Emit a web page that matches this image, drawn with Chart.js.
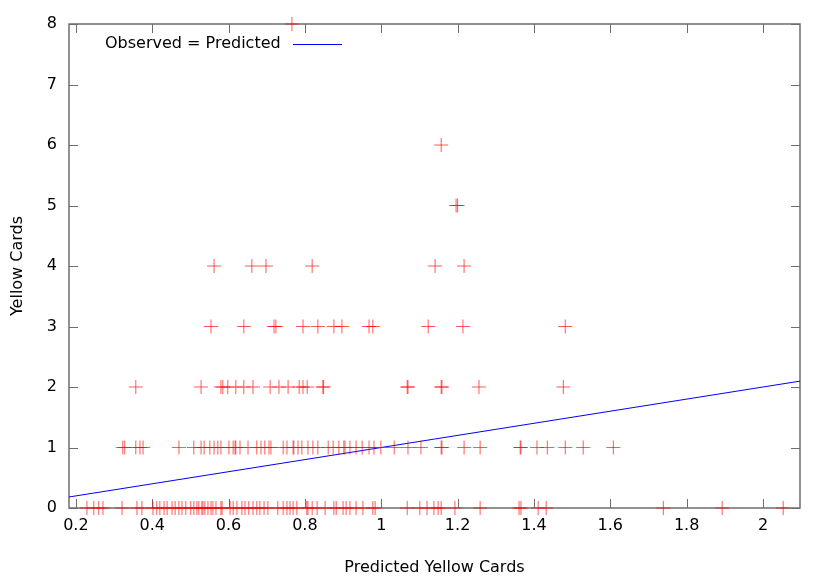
<!DOCTYPE html>
<html>
<head>
<meta charset="utf-8">
<script src="https://cdn.jsdelivr.net/npm/chart.js@4"></script>
<style>
  html, body { margin: 0; padding: 0; background: #fff; }
  #wrap { width: 830px; height: 581px; }
</style>
</head>
<body>
<div id="wrap"><canvas id="chart"></canvas></div>
<script>
// predicted yellow cards, grouped by the observed number of yellow cards
const pred0 = [0.229, 0.247, 0.260, 0.271, 0.321, 0.360, 0.373, 0.402, 0.412, 0.420, 0.431, 0.439,
  0.452, 0.460, 0.470, 0.478, 0.488, 0.501, 0.509, 0.517, 0.522, 0.530, 0.533, 0.538, 0.546, 0.554,
  0.559, 0.567, 0.580, 0.583, 0.604, 0.612, 0.622, 0.635, 0.643, 0.653, 0.664, 0.674, 0.682, 0.693,
  0.703, 0.729, 0.743, 0.753, 0.761, 0.769, 0.779, 0.805, 0.808, 0.819, 0.832, 0.853, 0.876, 0.882,
  0.900, 0.908, 0.918, 0.934, 0.952, 0.978, 0.984, 1.068, 1.101, 1.120, 1.138, 1.149, 1.157, 1.193,
  1.259, 1.361, 1.366, 1.411, 1.432, 1.739, 1.893, 2.053];
const pred1 = [0.323, 0.328, 0.357, 0.368, 0.376, 0.470, 0.509, 0.528, 0.536, 0.551, 0.562, 0.572,
  0.580, 0.601, 0.612, 0.617, 0.619, 0.630, 0.651, 0.674, 0.685, 0.695, 0.706, 0.711, 0.743, 0.753,
  0.769, 0.771, 0.782, 0.792, 0.808, 0.821, 0.834, 0.861, 0.874, 0.889, 0.902, 0.905, 0.918, 0.934,
  0.950, 0.968, 0.981, 0.999, 1.034, 1.070, 1.104, 1.157, 1.159, 1.217, 1.259, 1.364, 1.366, 1.408,
  1.435, 1.482, 1.529, 1.608];
const pred2 = [0.357, 0.528, 0.580, 0.585, 0.598, 0.619, 0.640, 0.664, 0.709, 0.732, 0.756, 0.785,
  0.795, 0.806, 0.847, 0.849, 1.068, 1.070, 1.157, 1.159, 1.256, 1.477];
const pred3 = [0.554, 0.640, 0.719, 0.724, 0.795, 0.834, 0.876, 0.897, 0.968, 0.978, 1.123, 1.214, 1.482];
const pred4 = [0.562, 0.661, 0.698, 0.819, 1.141, 1.217];
const pred5 = [1.196, 1.200];
const pred6 = [1.157];
const pred8 = [0.766];

const observedLevels = [0, 1, 2, 3, 4, 5, 6, 8];
const predByLevel = [pred0, pred1, pred2, pred3, pred4, pred5, pred6, pred8];

const xRange = [0.182, 2.097];
const xTicks = [0.2, 0.4, 0.6, 0.8, 1, 1.2, 1.4, 1.6, 1.8, 2];
const yTicks = [0, 1, 2, 3, 4, 5, 6, 7, 8];
const legendText = 'Observed = Predicted';

const points = [];
observedLevels.forEach((lvl, i) => {
  predByLevel[i].forEach(p => points.push({ x: p, y: lvl }));
});

const frameColor = 'rgb(110,110,110)';

// gnuplot-like border with inward, mirrored tick marks
const framePlugin = {
  id: 'frame',
  beforeDatasetsDraw(chart) {
    const { ctx, chartArea: a, scales } = chart;
    const len = 9;
    ctx.save();
    ctx.strokeStyle = frameColor;
    ctx.lineWidth = 1;
    ctx.beginPath();
    scales.x.ticks.forEach(t => {
      const px = Math.round(scales.x.getPixelForValue(t.value)) + 0.5;
      ctx.moveTo(px, a.bottom); ctx.lineTo(px, a.bottom - len);
      ctx.moveTo(px, a.top); ctx.lineTo(px, a.top + len);
    });
    scales.y.ticks.forEach(t => {
      const py = Math.round(scales.y.getPixelForValue(t.value)) + 0.5;
      ctx.moveTo(a.left, py); ctx.lineTo(a.left + len, py);
      ctx.moveTo(a.right, py); ctx.lineTo(a.right - len, py);
    });
    ctx.stroke();
    ctx.lineWidth = 1.5;
    ctx.strokeRect(a.left, a.top, a.right - a.left, a.bottom - a.top);
    ctx.restore();
  },
  afterDatasetsDraw(chart) {
    const { ctx, chartArea: a } = chart;
    ctx.save();
    ctx.font = '16px "DejaVu Sans"';
    ctx.fillStyle = '#000';
    ctx.textBaseline = 'middle';
    ctx.textAlign = 'left';
    const ty = a.top + 20;
    ctx.fillText(legendText, a.left + 36, ty);
    ctx.strokeStyle = 'rgb(0,0,255)';
    ctx.lineWidth = 1;
    ctx.beginPath();
    ctx.moveTo(a.left + 224, ty + 0.5);
    ctx.lineTo(a.left + 273, ty + 0.5);
    ctx.stroke();
    ctx.restore();
  }
};

Chart.defaults.font.family = '"DejaVu Sans", sans-serif';
Chart.defaults.font.size = 16;
Chart.defaults.color = '#000';

new Chart(document.getElementById('chart').getContext('2d'), {
  type: 'scatter',
  data: {
    datasets: [{
      label: 'Yellow Cards',
      data: points,
      pointStyle: 'cross',
      pointRadius: 7,
      pointHoverRadius: 7,
      borderColor: 'rgba(255,0,0,0.65)',
      backgroundColor: 'rgba(255,0,0,0.65)',
      pointBorderWidth: 1,
      showLine: false,
      clip: false
    }, {
      label: legendText,
      type: 'line',
      data: [{ x: xRange[0], y: xRange[0] }, { x: xRange[1], y: xRange[1] }],
      borderColor: 'rgb(0,0,255)',
      borderWidth: 1,
      pointRadius: 0,
      fill: false
    }]
  },
  options: {
    responsive: true,
    maintainAspectRatio: false,
    animation: false,
    layout: { padding: { top: 24, right: 30, left: 0, bottom: 0 } },
    plugins: { legend: { display: false }, tooltip: { enabled: false } },
    scales: {
      x: {
        type: 'linear',
        min: xRange[0],
        max: xRange[1],
        grid: { display: false, drawTicks: false },
        border: { display: false },
        afterBuildTicks: s => { s.ticks = xTicks.map(v => ({ value: v })); },
        afterFit: s => { s.height = 73; },
        ticks: { padding: 8, callback: v => String(Math.round(v * 10) / 10) },
        title: { display: true, text: 'Predicted Yellow Cards', padding: { top: 4, bottom: 4 } }
      },
      y: {
        min: 0,
        max: 8,
        grid: { display: false, drawTicks: false },
        border: { display: false },
        afterBuildTicks: s => { s.ticks = yTicks.map(v => ({ value: v })); },
        afterFit: s => { s.width = 69; },
        ticks: { padding: 12 },
        title: { display: true, text: 'Yellow Cards', padding: { top: 8, bottom: 4 } }
      }
    }
  },
  plugins: [framePlugin]
});
</script>
</body>
</html>
